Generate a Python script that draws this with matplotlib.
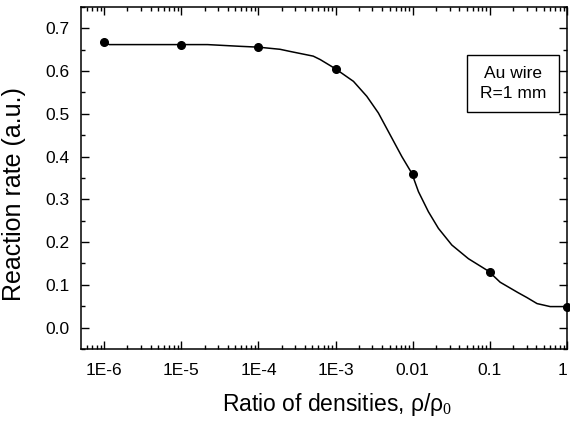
import matplotlib
matplotlib.use("Agg")
import matplotlib.pyplot as plt
from matplotlib.patches import Rectangle
from matplotlib.transforms import ScaledTranslation
from matplotlib.ticker import LogLocator, FixedLocator, MultipleLocator, NullFormatter

plt.rcParams['font.family'] = ['Liberation Sans', 'DejaVu Sans']
plt.rcParams['mathtext.fontset'] = 'custom'
plt.rcParams['mathtext.rm'] = 'Liberation Serif'
plt.rcParams['mathtext.it'] = 'Liberation Serif'

# measured points
density_ratio = [1e-6, 1e-5, 1e-4, 1e-3, 1e-2, 1e-1, 1.0]
reaction_rate = [0.668, 0.662, 0.656, 0.605, 0.359, 0.131, 0.047]

# fitted curve (log10 of density ratio, rate)
curve_log_x = [-6.0, -5.93, -5.5, -5.0, -4.66, -4.24, -4.0, -3.72, -3.59, -3.29,
               -3.20, -3.007, -2.769, -2.596, -2.446, -2.294, -2.142, -2.013,
               -1.927, -1.798, -1.668, -1.494, -1.279, -1.02, -0.868, -0.64,
               -0.52, -0.39, -0.22, 0.0]
curve_y = [0.666, 0.662, 0.662, 0.662, 0.662, 0.658, 0.656, 0.651, 0.646, 0.635,
           0.627, 0.606, 0.576, 0.541, 0.502, 0.451, 0.400, 0.361,
           0.318, 0.271, 0.232, 0.193, 0.161, 0.132, 0.106, 0.082,
           0.070, 0.056, 0.049, 0.049]

xtick_vals = [1e-6, 1e-5, 1e-4, 1e-3, 1e-2, 1e-1, 1.0]
xtick_labels = ['1E-6', '1E-5', '1E-4', '1E-3', '0.01', '0.1', '1']
ytick_vals = [0.0, 0.1, 0.2, 0.3, 0.4, 0.5, 0.6, 0.7]

fig = plt.figure(figsize=(5.7, 4.26), dpi=100)
ax = fig.add_axes([0.142, 0.181, 0.853, 0.8026])

ax.plot([10 ** v for v in curve_log_x], curve_y, color='black', lw=1.1)
ax.plot(density_ratio, reaction_rate, 'o', color='black', ms=5.5, clip_on=False, zorder=5)

ax.set_xscale('log')
ax.set_xlim(10 ** -6.3, 1.0)
ax.set_ylim(-0.05, 0.75)

ax.xaxis.set_major_locator(FixedLocator(xtick_vals))
ax.set_xticklabels(xtick_labels)
ax.xaxis.set_minor_locator(LogLocator(base=10, subs=[2, 3, 4, 5, 6, 7, 8, 9], numticks=20))
ax.xaxis.set_minor_formatter(NullFormatter())
ax.yaxis.set_major_locator(FixedLocator(ytick_vals))
ax.set_yticklabels(['%.1f' % v for v in ytick_vals])
ax.yaxis.set_minor_locator(MultipleLocator(0.05))

ax.tick_params(which='both', direction='in', top=True, right=True, labelsize=12.5, width=1.0)
ax.tick_params(which='major', length=6)
ax.tick_params(axis='y', which='major', pad=8.5)
ax.tick_params(axis='x', which='major', pad=10.5)
ax.tick_params(which='minor', length=3)
for s in ax.spines.values():
    s.set_linewidth(1.1)

# keep the last tick label ("1") inside the figure
last = ax.get_xticklabels()[-1]
last.set_transform(last.get_transform() + ScaledTranslation(-3 / 72, 0, fig.dpi_scale_trans))

ax.set_ylabel('Reaction rate (a.u.)', fontsize=18)
ax.yaxis.set_label_coords(-0.113, 0.452)
ax.set_xlabel(r'Ratio of densities, ρ/ρ$_{0}$', fontsize=16.5, va='top')
ax.xaxis.set_label_coords(0.527, -0.123)

ax.add_patch(Rectangle((0.794, 0.693), 0.19, 0.167, transform=ax.transAxes,
                       facecolor='white', edgecolor='black', linewidth=1.0, zorder=6))
ax.text(0.889, 0.776, 'Au wire\nR=1 mm', transform=ax.transAxes, ha='center', va='center',
        fontsize=12.5, linespacing=1.45, zorder=7)

fig.savefig('out.png', dpi=100)
